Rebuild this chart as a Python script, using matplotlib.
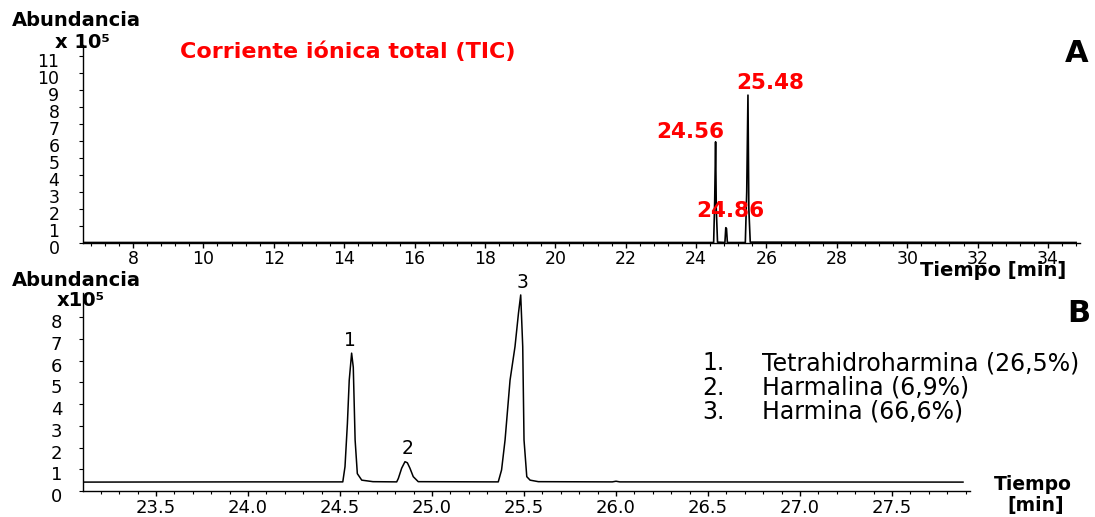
import matplotlib
matplotlib.use("Agg")
import matplotlib.pyplot as plt
from matplotlib.ticker import MultipleLocator, FixedLocator
from matplotlib.transforms import ScaledTranslation

plt.rcParams['font.family'] = ['DejaVu Sans']

# ---------------- data ----------------
# Panel A: total ion current (TIC), time [min] vs abundance [x1e5]
tic_time = [6.6, 24.50, 24.53, 24.555, 24.575, 24.61, 24.82, 24.845, 24.865,
            24.89, 25.40, 25.44, 25.475, 25.50, 25.54, 34.8]
tic_abund = [0.03, 0.03, 2.5, 5.95, 2.0, 0.05, 0.03, 0.9, 0.85,
             0.03, 0.03, 3.0, 8.7, 2.0, 0.05, 0.03]
tic_peak_labels = ["24.56", "24.86", "25.48"]

# Panel B: zoomed chromatogram
zoom_time = [23.10, 24.00, 24.30, 24.515, 24.527, 24.540, 24.550, 24.563, 24.572,
             24.582, 24.594, 24.618, 24.679, 24.808, 24.817, 24.835, 24.853,
             24.866, 24.880, 24.898, 24.925, 25.360, 25.378, 25.397, 25.424,
             25.451, 25.470, 25.482, 25.493, 25.500, 25.515, 25.533, 25.578,
             25.98, 26.0, 26.02, 27.886]
zoom_abund = [0.41, 0.42, 0.42, 0.42, 1.12, 3.1, 5.1, 6.35, 5.7,
              2.35, 0.8, 0.5, 0.43, 0.42, 0.58, 1.05, 1.35,
              1.3, 1.05, 0.66, 0.43, 0.42, 0.97, 2.35, 5.1,
              6.65, 8.2, 9.03, 6.65, 2.35, 0.66, 0.5, 0.43,
              0.42, 0.45, 0.42, 0.41]
peak_numbers = ["1", "2", "3"]
legend_nums = ["1.", "2.", "3."]
legend_names = ["Tetrahidroharmina (26,5%)", "Harmalina (6,9%)", "Harmina (66,6%)"]

tic_yticks = list(range(0, 12))
tic_xticks = list(range(8, 35, 2))
zoom_yticks = list(range(0, 9))
zoom_xticks = [23.5, 24.0, 24.5, 25.0, 25.5, 26.0, 26.5, 27.0, 27.5]

# ---------------- figure ----------------
W, H = 1095, 517
fig = plt.figure(figsize=(W / 100, H / 100), dpi=100)


def fx(px):
    return px / W


def fy(py):
    return 1 - py / H


axA = fig.add_axes([fx(83), fy(243), fx(1080 - 83), (243 - 45) / H])
axB = fig.add_axes([fx(83), fy(491), fx(970 - 83), (491 - 293) / H])

for ax in (axA, axB):
    ax.spines['top'].set_visible(False)
    ax.spines['right'].set_visible(False)
    ax.spines['left'].set_linewidth(1.0)
    ax.spines['bottom'].set_linewidth(1.0)
    ax.patch.set_alpha(0)

# Panel A
axA.plot(tic_time, tic_abund, color='black', lw=1.2)
axA.set_xlim(6.58, 34.91)
axA.set_ylim(0, 11.65)
axA.xaxis.set_major_locator(FixedLocator(tic_xticks))
axA.xaxis.set_minor_locator(MultipleLocator(0.4))
axA.yaxis.set_major_locator(FixedLocator(tic_yticks))
axA.set_xticklabels([str(t) for t in tic_xticks])
axA.set_yticklabels([str(t) for t in tic_yticks])
axA.tick_params(axis='x', which='major', length=3.5, width=1, pad=1.5, labelsize=12.5)
axA.tick_params(axis='x', which='minor', length=2.2, width=0.8)
axA.tick_params(axis='y', which='major', length=3, width=0.8, pad=14, labelsize=12.5)

# Panel B
axB.plot(zoom_time, zoom_abund, color='black', lw=1.1)
axB.set_xlim(23.103, 27.924)
axB.set_ylim(0, 9.12)
axB.xaxis.set_major_locator(FixedLocator(zoom_xticks))
axB.xaxis.set_minor_locator(MultipleLocator(0.1))
axB.yaxis.set_major_locator(FixedLocator(zoom_yticks))
axB.set_xticklabels([f"{t:.1f}" for t in zoom_xticks])
axB.set_yticklabels([str(t) for t in zoom_yticks])
axB.tick_params(axis='x', which='major', length=3.5, width=1, pad=2, labelsize=13)
axB.tick_params(axis='x', which='minor', length=2.2, width=0.8)
axB.tick_params(axis='y', which='major', length=3, width=0.8, pad=12, labelsize=13)

# shift y tick labels slightly downward as in the reference
off = ScaledTranslation(0, -4 / 100, fig.dpi_scale_trans)
for ax in (axA, axB):
    for lab in ax.get_yticklabels():
        lab.set_transform(lab.get_transform() + off)

# ---------------- texts ----------------
fig.text(fx(12), fy(20), "Abundancia", fontsize=14, fontweight='bold', va='center', ha='left')
fig.text(fx(55), fy(43), "x 10⁵", fontsize=14, fontweight='bold', va='center', ha='left')
fig.text(fx(180), fy(52), "Corriente iónica total (TIC)", fontsize=16, fontweight='bold',
         color='#ff0000', va='center', ha='left')
fig.text(fx(1077), fy(54), "A", fontsize=22, fontweight='bold', va='center', ha='center')
fig.text(fx(920), fy(271), "Tiempo [min]", fontsize=14, fontweight='bold', va='center', ha='left')

peak_label_px = [(690, 132), (730, 211), (770, 83)]
for lab, (px, py) in zip(tic_peak_labels, peak_label_px):
    fig.text(fx(px), fy(py), lab, fontsize=15.5, fontweight='bold', color='#ff0000',
             va='center', ha='center')

fig.text(fx(12), fy(280), "Abundancia", fontsize=14, fontweight='bold', va='center', ha='left')
fig.text(fx(57), fy(300), "x10⁵", fontsize=14, fontweight='bold', va='center', ha='left')
fig.text(fx(1079), fy(313), "B", fontsize=22, fontweight='bold', va='center', ha='center')
fig.text(fx(1033), fy(485), "Tiempo", fontsize=13.5, fontweight='bold', va='center', ha='center')
fig.text(fx(1036), fy(506), "[min]", fontsize=13.5, fontweight='bold', va='center', ha='center')

num_px = [(350, 340), (408, 448), (523, 283)]
for lab, (px, py) in zip(peak_numbers, num_px):
    fig.text(fx(px), fy(py), lab, fontsize=13.5, va='center', ha='center')

legend_y = [363, 388, 412]
for n, name, py in zip(legend_nums, legend_names, legend_y):
    fig.text(fx(702), fy(py), n, fontsize=17, va='center', ha='left')
    fig.text(fx(762), fy(py), name, fontsize=17, va='center', ha='left')

fig.savefig("out.png", dpi=100)
